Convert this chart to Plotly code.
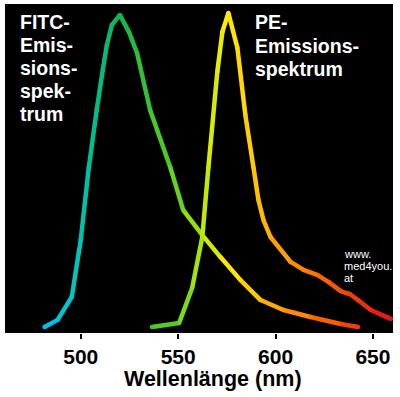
import plotly.graph_objects as go

# ---- data ----
fitc_wl = [481.4, 488.1, 495.4, 500.0, 504.1, 508.2, 511.3, 513.4, 516.0, 520.1,
           524.7, 528.9, 535.6, 545.9, 552.6, 562.4, 571.6, 581.9, 592.3, 604.1,
           618.0, 633.5, 642.3]
fitc_int = [1.9, 4.1, 11.3, 29.1, 51.6, 69.7, 82.2, 90.0, 96.3, 99.4,
            94.1, 87.5, 69.7, 51.9, 38.4, 30.6, 23.8, 16.6, 10.3, 7.2,
            5.0, 2.8, 1.9]

pe_wl = [536.6, 550.5, 557.2, 562.4, 565.5, 570.1, 572.7, 575.8, 580.4, 584.5,
         588.7, 591.2, 593.8, 597.4, 607.7, 614.4, 621.6, 627.3, 633.5, 636.1,
         638.1, 642.3, 648.9, 659.2]
pe_int = [1.9, 3.1, 14.1, 30.0, 51.6, 81.6, 94.1, 100.0, 89.1, 68.1,
          51.6, 41.6, 35.3, 30.0, 22.2, 19.7, 18.1, 15.9, 13.1, 12.5,
          12.2, 10.3, 7.2, 4.4]

x_ticks = [500, 550, 600, 650]
x_title = "Wellenlänge (nm)"
fitc_label = ["FITC-", "Emis-", "sions-", "spek-", "trum"]
pe_label = ["PE-", "Emissions-", "spektrum"]
web_label = ["www.", "med4you.", "at"]

# ---- style ----
FONT = "Liberation Sans, Arial, sans-serif"
color_stops = [
    (480, (0, 190, 240)),
    (495, (0, 200, 200)),
    (505, (0, 190, 150)),
    (520, (20, 180, 80)),
    (540, (70, 200, 40)),
    (552, (110, 215, 30)),
    (565, (200, 235, 0)),
    (575, (255, 238, 0)),
    (585, (255, 210, 0)),
    (595, (255, 180, 0)),
    (610, (255, 140, 0)),
    (625, (250, 100, 0)),
    (640, (240, 60, 10)),
    (660, (230, 15, 20)),
]


def wl_color(w):
    if w <= color_stops[0][0]:
        c = color_stops[0][1]
    elif w >= color_stops[-1][0]:
        c = color_stops[-1][1]
    else:
        for (w0, c0), (w1, c1) in zip(color_stops[:-1], color_stops[1:]):
            if w0 <= w <= w1:
                t = (w - w0) / (w1 - w0)
                c = tuple(round(a + (b - a) * t) for a, b in zip(c0, c1))
                break
    return "rgb(%d,%d,%d)" % c


fig = go.Figure()
LW = 4.5


def add_curve(wl, val):
    for i in range(len(wl) - 1):
        mid = (wl[i] + wl[i + 1]) / 2
        fig.add_trace(go.Scatter(
            x=wl[i:i + 2], y=val[i:i + 2], mode="lines",
            line=dict(color=wl_color(mid), width=LW),
            hoverinfo="skip", showlegend=False))
    fig.add_trace(go.Scatter(
        x=wl, y=val, mode="markers",
        marker=dict(size=LW, color=[wl_color(w) for w in wl], line=dict(width=0)),
        hoverinfo="skip", showlegend=False))


add_curve(fitc_wl, fitc_int)
add_curve(pe_wl, pe_int)

W, H = 400, 397
L, R, T, B = 5, 7, 4, 64
pw, ph = W - L - R, H - T - B


def px(xp):
    return (xp - L) / pw


def py(yp):
    return (H - B - yp) / ph


anns = []
for i, s in enumerate(fitc_label):
    anns.append(dict(text=s, x=px(18), y=py(22 + 23 * i), xref="paper", yref="paper",
                     xanchor="left", yanchor="middle", showarrow=False,
                     font=dict(family=FONT, size=19.5, color="white", weight="bold")))
for i, s in enumerate(pe_label):
    anns.append(dict(text=s, x=px(253), y=py(22 + 23.5 * i), xref="paper", yref="paper",
                     xanchor="left", yanchor="middle", showarrow=False,
                     font=dict(family=FONT, size=19.5, color="white", weight="bold")))
for i, s in enumerate(web_label):
    anns.append(dict(text=s, x=px(342), y=py(254 + 12 * i), xref="paper", yref="paper",
                     xanchor="left", yanchor="middle", showarrow=False,
                     font=dict(family=FONT, size=11, color="white")))
anns.append(dict(text=x_title, x=px(212.5), y=py(379), xref="paper", yref="paper",
                 xanchor="center", yanchor="middle", showarrow=False,
                 font=dict(family=FONT, size=21.5, color="black", weight="bold")))

fig.update_layout(
    width=W, height=H,
    margin=dict(l=L, r=R, t=T, b=B),
    paper_bgcolor="white", plot_bgcolor="black",
    annotations=anns,
    xaxis=dict(range=[461.1, 660.3], tickvals=x_ticks, ticks="outside", ticklen=5,
               tickwidth=2, tickcolor="black", showgrid=False, zeroline=False,
               showline=False, tickfont=dict(family=FONT, size=21, color="black", weight="bold"),
               fixedrange=True),
    yaxis=dict(range=[0, 102.8], visible=False, showgrid=False, zeroline=False, fixedrange=True),
)

fig.write_html("out.html", config={"displayModeBar": False},
               post_script="document.body.style.margin='0px';document.body.style.overflow='hidden';")
